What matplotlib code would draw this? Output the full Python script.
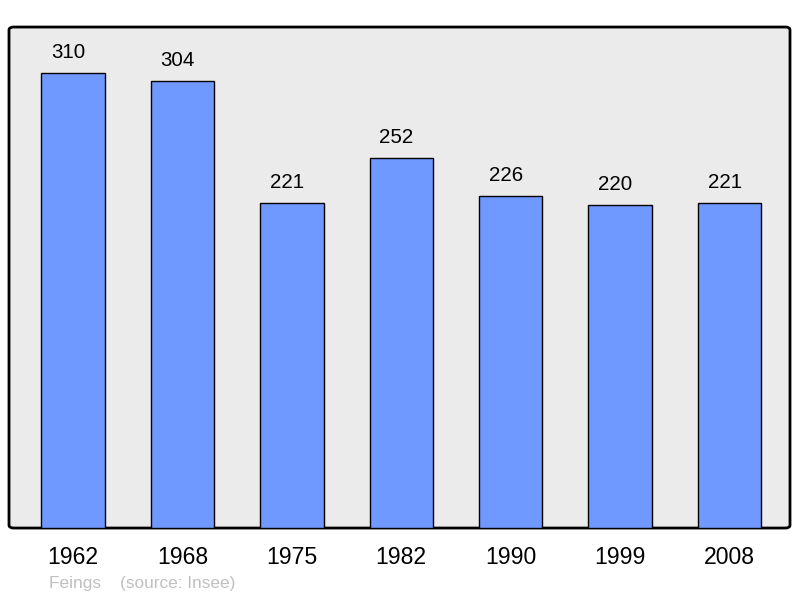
import matplotlib.pyplot as plt
from matplotlib.patches import FancyBboxPatch

plt.rcParams['font.family'] = ['Liberation Sans', 'DejaVu Sans']

years = ['1962', '1968', '1975', '1982', '1990', '1999', '2008']
population = [310, 304, 221, 252, 226, 220, 221]

fig = plt.figure(figsize=(8, 5.98), dpi=100)
ax = fig.add_axes([0.01125, 0.117, 0.97625, 0.8378])
ax.set_facecolor('none')

# rounded grey frame behind the bars
frame = FancyBboxPatch((0, 0), 1, 1, boxstyle='round,pad=0,rounding_size=0.006',
                       transform=ax.transAxes, facecolor='#ebebeb',
                       edgecolor='#000000', linewidth=2.0, zorder=0, clip_on=False)
ax.add_patch(frame)

x = range(len(years))
ax.bar(x, population, width=0.58, color='#7099ff', edgecolor='black',
       linewidth=1.0, zorder=2)

# value labels sit slightly left of the bar centre, like the original
for xi, v in zip(x, population):
    ax.annotate(str(v), (xi, v), xytext=(-3.5, 14.8), textcoords='offset points',
                ha='center', va='center', fontsize=14.8)

ax.set_xlim(-0.585, 6.553)
ax.set_ylim(0, 341)
ax.set_xticks(list(x))
ax.set_xticklabels(years, fontsize=16.6)
ax.tick_params(axis='x', length=0, pad=13)
ax.set_yticks([])
for s in ax.spines.values():
    s.set_visible(False)

fig.text(0.061, 0.025, 'Feings    (source: Insee)', color='#c0c0c0',
         fontsize=12.4, va='center')

plt.savefig('out.png', dpi=100)
